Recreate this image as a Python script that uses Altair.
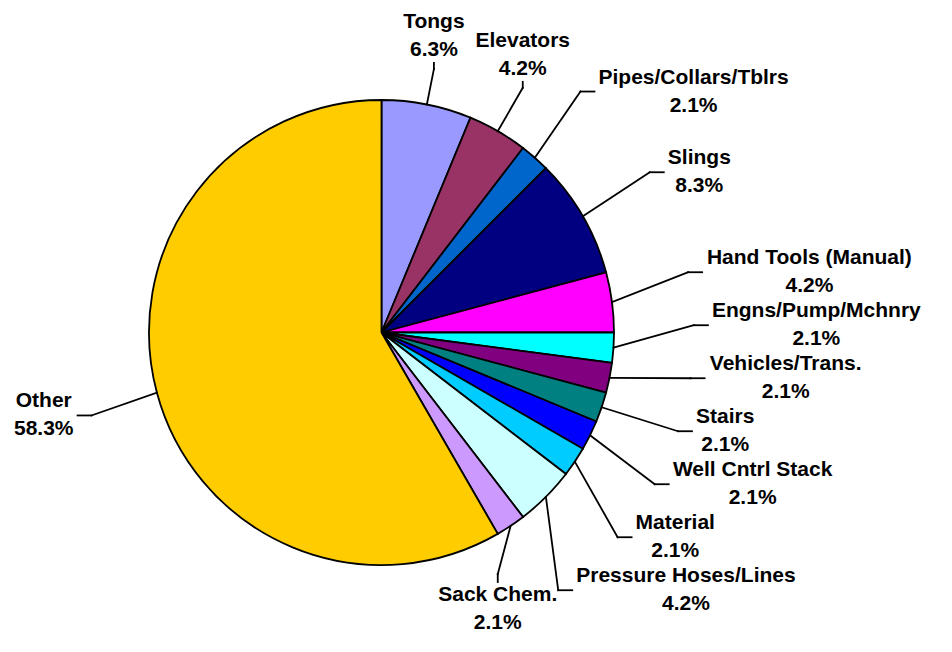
import math
from decimal import Decimal, ROUND_HALF_UP
import altair as alt
import pandas as pd

# ---------------- data ----------------
names = ["Tongs", "Elevators", "Pipes/Collars/Tblrs", "Slings", "Hand Tools (Manual)",
         "Engns/Pump/Mchnry", "Vehicles/Trans.", "Stairs", "Well Cntrl Stack", "Material",
         "Pressure Hoses/Lines", "Sack Chem.", "Other"]
counts = [3, 2, 1, 4, 2, 1, 1, 1, 1, 1, 2, 1, 28]
colors = ["#9999FF", "#993366", "#0066CC", "#000080", "#FF00FF", "#00FFFF", "#800080",
          "#008080", "#0000FF", "#00CCFF", "#CCFFFF", "#CC99FF", "#FFCC00"]

# ---------------- layout (page pixels) ----------------
PAGE_W, PAGE_H, MARGIN = 952, 652, 8
CX, CY, R = 381.5, 332.5, 232.5
FONT, LINE_H = 21, 28
R_SIDE = R + 80      # elbow radius for side labels
R_WANT = R + 88      # radius giving the preferred height of side labels
R_TOP = R + 50
R_BOT = R + 58
STUB = 14
GAP = 53             # min vertical distance between side labels
HALF_H = 26

# Arial/Liberation Sans Bold advance widths (per 1000 em)
W = {" ": 278, "%": 889, "(": 333, ")": 333, ".": 278, "/": 278}
for d in "0123456789":
    W[d] = 556
W.update(dict(zip("ABCDEFGHIJKLMNOPQRSTUVWXYZ",
                  [722, 722, 722, 722, 667, 611, 778, 722, 278, 556, 722, 611, 833, 722,
                   778, 667, 778, 722, 667, 611, 722, 667, 944, 667, 667, 611])))
W.update(dict(zip("abcdefghijklmnopqrstuvwxyz",
                  [556, 611, 556, 611, 556, 333, 611, 611, 278, 278, 556, 278, 889, 611,
                   611, 611, 611, 389, 556, 333, 611, 556, 778, 556, 556, 500])))


def text_w(s):
    return sum(W.get(ch, 556) for ch in s) * FONT / 1000.0


total = sum(counts)
rows = []
cum = 0
for i, (n, c) in enumerate(zip(names, counts)):
    mid = (cum + c / 2) / total * 2 * math.pi
    cum += c
    pct = Decimal(str(c / total * 100)).quantize(Decimal("0.1"), rounding=ROUND_HALF_UP)
    pct_s = f"{pct}%"
    deg = math.degrees(mid)
    if deg < 35 or deg > 325:
        zone = "top"
    elif 145 < deg < 215:
        zone = "bottom"
    elif deg < 180:
        zone = "right"
    else:
        zone = "left"
    rows.append(dict(idx=i, name=n, count=c, mid=mid, pct=pct_s, zone=zone,
                     w=max(text_w(n), text_w(pct_s)),
                     px=CX + R * math.sin(mid), py=CY - R * math.cos(mid)))

segs = []
boxes = []


def relax(items):
    ys = [it["ty"] for it in items]
    for _ in range(1000):
        moved = False
        for k in range(len(ys) - 1):
            d = ys[k + 1] - ys[k]
            if d < GAP - 1e-6:
                s = (GAP - d) / 2
                ys[k] -= s
                ys[k + 1] += s
                moved = True
        for k in range(len(ys)):
            ys[k] = min(max(ys[k], MARGIN + HALF_H + 6), PAGE_H - HALF_H - 18)
        if not moved:
            break
    for it, y in zip(items, ys):
        it["ty"] = y


for side, sgn in (("right", 1), ("left", -1)):
    items = [r for r in rows if r["zone"] == side]
    for r in items:
        r["ty"] = CY - R_WANT * math.cos(r["mid"])
    items.sort(key=lambda r: r["ty"])
    relax(items)
    for r in items:
        dy = r["ty"] - CY
        ex = CX + sgn * math.sqrt(max(R_SIDE ** 2 - dy ** 2, 0))
        lx = ex + sgn * (STUB + 4 + r["w"] / 2)
        # keep the whole label on the page
        lo, hi = MARGIN + 6 + r["w"] / 2, PAGE_W - MARGIN - 6 - r["w"] / 2
        if lx < lo or lx > hi:
            lx = min(max(lx, lo), hi)
            ex = lx - sgn * (STUB + 4 + r["w"] / 2)
        sx = ex + sgn * STUB
        r["lx"], r["ly"] = lx, r["ty"]
        segs.append(dict(x1=r["px"], y1=r["py"], x2=ex, y2=r["ty"]))
        segs.append(dict(x1=ex, y1=r["ty"], x2=sx, y2=r["ty"]))
        boxes.append((lx - r["w"] / 2, lx + r["w"] / 2, r["ty"] - HALF_H, r["ty"] + HALF_H))

for r in rows:
    if r["zone"] not in ("top", "bottom"):
        continue
    up = r["zone"] == "top"
    ux, uy = math.sin(r["mid"]), -math.cos(r["mid"])
    if up:
        rad = R_TOP
        min_ey = MARGIN + 28 + 27 + 6
        if CY + rad * uy < min_ey:
            rad = (CY - min_ey) / -uy
        ex, ey = CX + rad * ux, CY + rad * uy
        sy = ey - 6
        ly = sy - 27
    else:
        ex, ey = r["px"] - 0.1 * (r["px"] - CX), CY + R_BOT * uy
        sy = ey + 8
        ly = sy + 27
    lx = ex
    for (b0, b1, b2, b3) in boxes:
        if lx + r["w"] / 2 > b0 and lx - r["w"] / 2 < b1 and ly + HALF_H > b2 and ly - HALF_H < b3:
            if lx < (b0 + b1) / 2:
                lx = b0 - 4 - r["w"] / 2
            else:
                lx = b1 + 4 + r["w"] / 2
    r["lx"], r["ly"] = lx, ly
    segs.append(dict(x1=r["px"], y1=r["py"], x2=ex, y2=ey))
    segs.append(dict(x1=ex, y1=ey, x2=ex, y2=sy))

df = pd.DataFrame(dict(idx=list(range(len(names))), name=names, count=counts))
# Vega puts the first line of a multi-line text at y; shift by half a line to centre the block
lab = pd.DataFrame(dict(label=[f"{r['name']}\n{r['pct']}" for r in rows],
                        lx=[r["lx"] for r in rows],
                        ly=[r["ly"] - LINE_H / 2 for r in rows]))
seg = pd.DataFrame(segs)

xs = alt.Scale(domain=[MARGIN, PAGE_W - MARGIN], nice=False, zero=False)
ys = alt.Scale(domain=[MARGIN, PAGE_H - MARGIN], nice=False, zero=False, reverse=True)

pie = alt.Chart(df).mark_arc(outerRadius=R, stroke="black", strokeWidth=1.8).encode(
    theta=alt.Theta("count:Q", stack=True),
    order=alt.Order("idx:Q"),
    color=alt.Color("name:N", scale=alt.Scale(domain=names, range=colors), legend=None),
    x=alt.X(datum=CX, scale=xs, axis=None),
    y=alt.Y(datum=CY, scale=ys, axis=None),
)

lines = alt.Chart(seg).mark_rule(color="black", strokeWidth=1.8, strokeCap="square").encode(
    x=alt.X("x1:Q", scale=xs, axis=None),
    y=alt.Y("y1:Q", scale=ys, axis=None),
    x2="x2:Q",
    y2="y2:Q",
)

texts = alt.Chart(lab).mark_text(
    font="Liberation Sans", fontWeight="bold", fontSize=FONT, lineHeight=LINE_H,
    lineBreak="\n", align="center", baseline="middle", color="black",
).encode(
    x=alt.X("lx:Q", scale=xs, axis=None),
    y=alt.Y("ly:Q", scale=ys, axis=None),
    text="label:N",
)

chart = alt.layer(pie, lines, texts).properties(
    width=PAGE_W - 2 * MARGIN, height=PAGE_H - 2 * MARGIN, padding=0,
    autosize=alt.AutoSizeParams(type="none"),
).configure_view(stroke=None)

chart.save("out.html", embed_options={"renderer": "svg", "actions": False})
